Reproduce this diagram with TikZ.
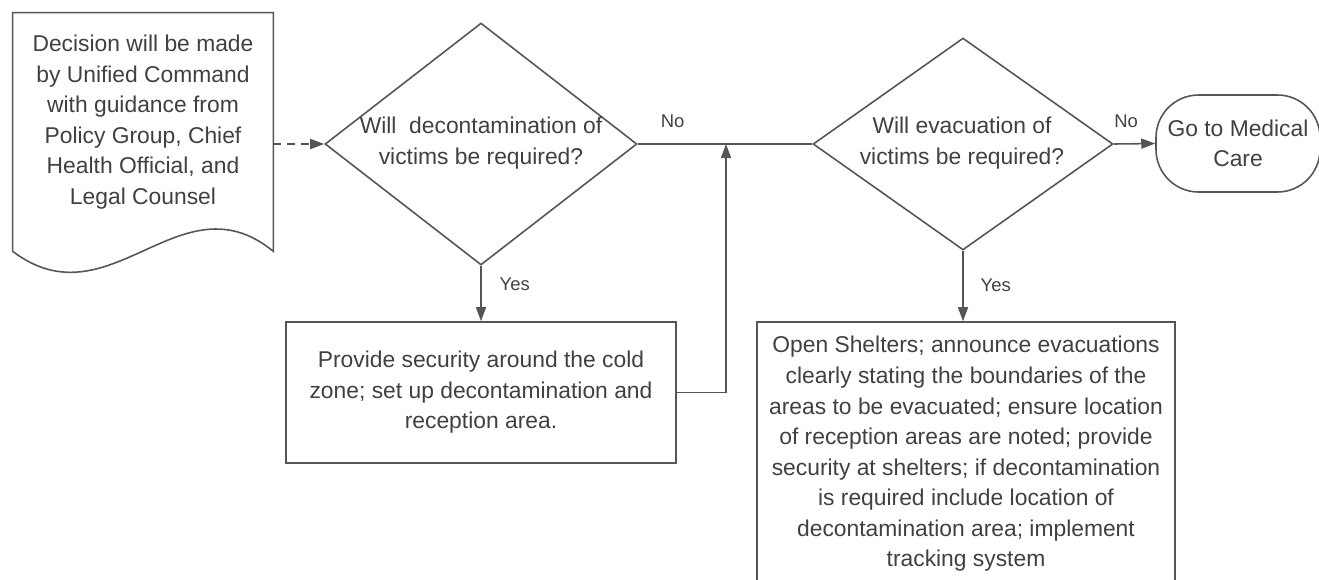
\documentclass[tikz,border=0pt]{standalone}
\usepackage{fontspec}
\setmainfont{Liberation Sans}
\usetikzlibrary{positioning, arrows.meta, shapes.geometric}
\definecolor{linegray}{HTML}{555555}
\definecolor{textgray}{HTML}{404040}

\begin{document}
\begin{tikzpicture}[
        x=0.02cm, y=-0.02cm,
        decision/.style={draw=linegray, diamond, line width=0.9pt, inner sep=0pt},
        process/.style={draw=linegray, rectangle, line width=0.9pt, align=center, inner sep=0pt},
        terminal/.style={draw=linegray, rectangle, rounded corners=0.85cm, line width=0.9pt, align=center, inner sep=0pt, minimum width=3.28cm, minimum height=1.94cm},
        outline/.style={draw=linegray, line width=0.9pt},
        lbl/.style={font=\fontsize{10.5}{12}\selectfont},
        arrow/.style={-{Triangle[length=2.8mm, width=2mm]}, draw=linegray, line width=0.9pt},
        font=\fontsize{13}{17.4}\selectfont, text=textgray
    ]
    \useasboundingbox (0,0) rectangle (1319,579);
    \clip (0,0) rectangle (1319,579);

    % Nodes
    \node[minimum width=5.2cm, minimum height=4.76cm, inner sep=0pt] (doc) at (143,132) {};
    \node[align=center] (doctext) at (143,122) {Decision will be made\\by Unified Command\\with guidance from\\Policy Group, Chief\\Health Official, and\\Legal Counsel};
    \node[decision, minimum width=6.24cm, minimum height=4.84cm] (decon) at (481,144) {};
    \node[align=center] (decontext) at (481,143) {Will\ \ decontamination of\\victims be required?};
    \node[decision, minimum width=6cm, minimum height=4.24cm] (evac) at (963,144) {};
    \node[align=center] (evactext) at (962,143) {Will evacuation of\\victims be required?};
    \node[terminal] (medical) at (1238,143.5) {Go to Medical\\Care};
    \node[process, minimum width=7.8cm, minimum height=2.82cm] (secure) at (481,392.5) {Provide security around the cold\\zone; set up decontamination and\\reception area.};
    \node[process, minimum width=8.36cm, minimum height=5.28cm] (shelter) at (966,454) {Open Shelters; announce evacuations\\clearly stating the boundaries of the\\areas to be evacuated; ensure location\\of reception areas are noted; provide\\security at shelters; if decontamination\\is required include location of\\decontamination area; implement\\tracking system};
    \coordinate (join) at (726,144);

    % Document outline
    \draw[outline] (doc.south west) -- (doc.north west) -- (doc.north east) -- (doc.south east)
        .. controls (180,175) and (110,325) .. (doc.south west);

    % Main flow arrows
    \draw[arrow, dashed, dash pattern=on 0.16cm off 0.12cm] (doc.east |- decon.west) -- (decon.west);
    \draw[outline] (decon.east) -- node[lbl, above=0.2cm, pos=0.2] {No} (evac.west);
    \draw[arrow] (decon.south) -- node[lbl, right=0.24cm, pos=0.33] {Yes} (secure.north);
    \draw[arrow] (evac.east) -- node[lbl, above=0.2cm, pos=0.3] {No} (medical.west);
    \draw[arrow] (evac.south) -- node[lbl, right=0.22cm, pos=0.49] {Yes} (evac.south |- shelter.north);

    % Back to the main line
    \draw[arrow] (secure.east) -| (join);
\end{tikzpicture}
\end{document}
